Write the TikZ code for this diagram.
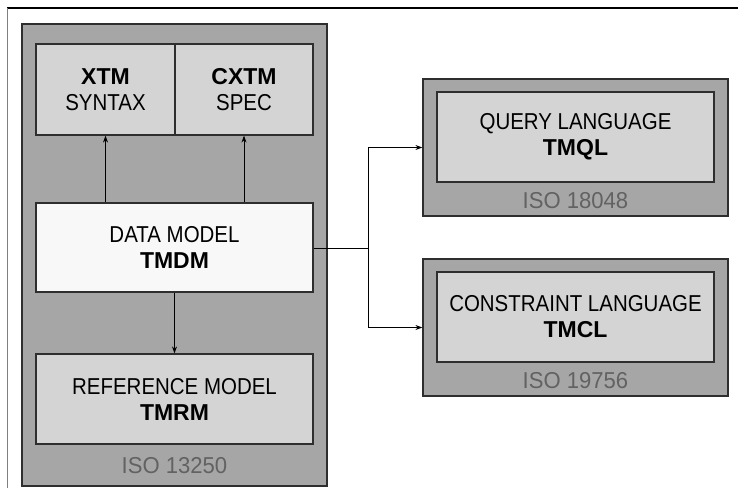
\documentclass[tikz,border=0pt]{standalone}
\usepackage{fontspec}
\setmainfont{Liberation Sans}
\newfontfamily\narrowfont{Liberation Sans}[FakeStretch=0.89]
\newfontfamily\isofont{Liberation Sans}[FakeStretch=0.96]
\usetikzlibrary{arrows.meta}
\definecolor{panelgray}{HTML}{A6A6A6}
\definecolor{boxgray}{HTML}{D4D4D4}
\definecolor{boxwhite}{HTML}{F8F8F8}
\definecolor{isogray}{HTML}{626262}
\definecolor{edgedark}{HTML}{2E2E2E}
\tikzset{
  panel/.style={draw=edgedark, line width=1.2pt, fill=panelgray, inner sep=0pt},
  card/.style={draw=edgedark, line width=1.2pt, fill=boxgray, inner sep=0pt,
    align=center, font=\fontsize{23}{26}\selectfont},
  isolabel/.style={text=isogray, inner sep=0pt, font=\isofont\fontsize{23}{26}\selectfont},
  link/.style={draw=black, line width=0.9pt, -{Stealth[length=7pt,width=5pt]}},
  plain/.style={draw=black, line width=0.9pt}
}
\begin{document}
\begin{tikzpicture}[x=1pt,y=-1pt]
\useasboundingbox (0,0) rectangle (738,488);
\fill[white] (0,0) rectangle (738,488);
% page frame
\draw[black, line width=1.3pt] (7,8) -- (738,8);
\draw[gray, line width=0.9pt] (7,8) -- (7,488);

% ISO 13250 panel
\node[panel, minimum width=305pt, minimum height=462pt] (topicmaps) at (174.5,255) {};
\node[card, minimum width=139pt, minimum height=91pt] (xtm) at (105.5,89.5)
  {\textbf{XTM}\\{\narrowfont SYNTAX}};
\node[card, minimum width=138pt, minimum height=91pt] (cxtm) at (244,89.5)
  {\textbf{CXTM}\\{\narrowfont SPEC}};
\node[card, fill=boxwhite, minimum width=277pt, minimum height=89pt] (tmdm) at (174.5,247.5)
  {{\narrowfont DATA MODEL}\\\textbf{TMDM}};
\node[card, minimum width=277pt, minimum height=90pt] (tmrm) at (174.5,399)
  {{\narrowfont REFERENCE MODEL}\\\textbf{TMRM}};
\node[isolabel] (iso13250) at (174.5,466) {ISO 13250};

% ISO 18048 panel
\node[panel, minimum width=305pt, minimum height=137pt] (qpanel) at (575.5,147.5) {};
\node[card, minimum width=277pt, minimum height=90pt] (tmql) at (575.5,137)
  {{\narrowfont QUERY LANGUAGE}\\\textbf{TMQL}};
\node[isolabel] (iso18048) at (575.5,201) {ISO 18048};

% ISO 19756 panel
\node[panel, minimum width=305pt, minimum height=137pt] (cpanel) at (575.5,327.5) {};
\node[card, minimum width=277pt, minimum height=90pt] (tmcl) at (575.5,317)
  {{\narrowfont CONSTRAINT LANGUAGE}\\\textbf{TMCL}};
\node[isolabel] (iso19756) at (575.5,381) {ISO 19756};

% connectors
\draw[link] (tmdm.north -| xtm.south) -- (xtm.south);
\draw[link] (tmdm.north -| cxtm.south) -- (cxtm.south);
\draw[link] (tmdm.south) -- (tmrm.north);
\coordinate (fork) at (368,248);
\draw[plain] (tmdm.east |- fork) -- (fork);
\draw[link] (fork) |- (qpanel.west);
\draw[link] (fork) |- (cpanel.west);
\end{tikzpicture}
\end{document}
